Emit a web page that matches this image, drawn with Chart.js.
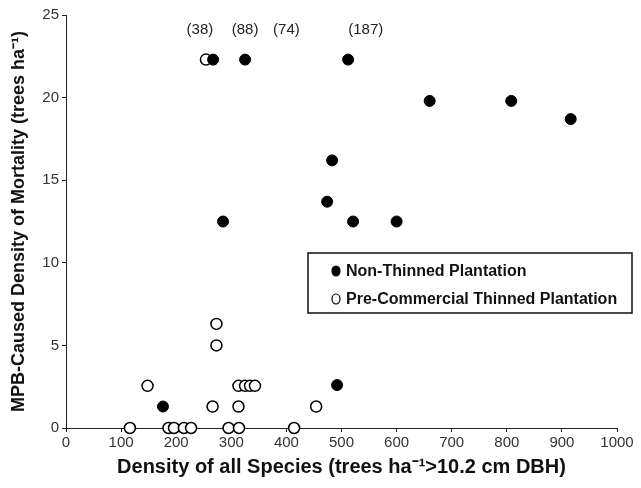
<!DOCTYPE html>
<html lang="en">
<head>
  <meta charset="UTF-8">
  <title>MPB-caused mortality vs stand density</title>
  <script src="https://cdn.jsdelivr.net/npm/chart.js"></script>
  <style>
    html, body { margin: 0; padding: 0; background: #fff; }
    #wrap { width: 641px; height: 488px; }
  </style>
</head>
<body>
  <div id="wrap"><canvas id="chart" width="641" height="488"></canvas></div>
  <script>
    // Non-thinned plantations (filled circles)
    const nonThinnedDensity   = [267, 325, 512, 660, 808, 916, 483, 474, 285, 521, 600, 176, 492];
    const nonThinnedMortality = [22.3, 22.3, 22.3, 19.8, 19.8, 18.7, 16.2, 13.7, 12.5, 12.5, 12.5, 1.3, 2.6];

    // Pre-commercial thinned plantations (open circles)
    const thinnedDensity   = [254, 273, 273, 148, 313, 325, 334, 343, 266, 313, 454,
                              116, 186, 196, 214, 227, 295, 314, 414];
    const thinnedMortality = [22.3, 6.3, 5.0, 2.55, 2.55, 2.55, 2.55, 2.55, 1.3, 1.3, 1.3,
                              0, 0, 0, 0, 0, 0, 0, 0];

    // off-scale values written above the capped points
    const noteText = ['(38)', '(88)', '(74)', '(187)'];
    const noteX    = [243, 325, 400, 544];
    const noteY    = [24.1, 24.1, 24.1, 24.1];

    const FONT = '"Liberation Sans", Arial, Helvetica, sans-serif';

    const toPoints = (xs, ys) => xs.map((v, i) => ({ x: v, y: ys[i] }));

    // text labels above the top row
    const notesPlugin = {
      id: 'notes',
      afterDatasetsDraw(chart) {
        const { ctx, scales: { x, y } } = chart;
        ctx.save();
        ctx.font = '15px ' + FONT;
        ctx.fillStyle = '#222';
        ctx.textAlign = 'center';
        ctx.textBaseline = 'middle';
        noteText.forEach((t, i) => {
          ctx.fillText(t, x.getPixelForValue(noteX[i]), y.getPixelForValue(noteY[i]));
        });
        ctx.restore();
      }
    };

    // boxed legend inside the plot
    const boxLegend = {
      id: 'boxLegend',
      afterDraw(chart) {
        const ctx = chart.ctx;
        const left = 308, top = 253, w = 324, h = 60;
        ctx.save();
        ctx.fillStyle = '#fff';
        ctx.fillRect(left, top, w, h);
        ctx.strokeStyle = '#111';
        ctx.lineWidth = 1.5;
        ctx.strokeRect(left, top, w, h);
        ctx.font = 'bold 16px ' + FONT;
        ctx.textBaseline = 'middle';
        chart.data.datasets.forEach((ds, i) => {
          const cy = top + 18 + i * 28;
          ctx.beginPath();
          ctx.ellipse(left + 28, cy, 4, 5, 0, 0, Math.PI * 2);
          ctx.fillStyle = ds.pointBackgroundColor;
          ctx.fill();
          ctx.lineWidth = 1.2;
          ctx.strokeStyle = '#000';
          ctx.stroke();
          ctx.fillStyle = '#111';
          ctx.fillText(ds.label, left + 38, cy + 1);
        });
        ctx.restore();
      }
    };

    const axisGrid = {
      display: true,
      drawOnChartArea: false,
      drawTicks: true,
      tickLength: 4,
      color: '#222'
    };

    new Chart(document.getElementById('chart'), {
      type: 'scatter',
      data: {
        datasets: [
          {
            label: 'Non-Thinned Plantation',
            data: toPoints(nonThinnedDensity, nonThinnedMortality),
            pointBackgroundColor: '#000',
            pointBorderColor: '#000',
            pointBorderWidth: 1,
            pointRadius: 5.5,
            clip: false
          },
          {
            label: 'Pre-Commercial Thinned Plantation',
            data: toPoints(thinnedDensity, thinnedMortality),
            pointBackgroundColor: '#fff',
            pointBorderColor: '#000',
            pointBorderWidth: 1.5,
            pointRadius: 5.5,
            clip: false
          }
        ]
      },
      options: {
        responsive: false,
        animation: false,
        layout: { padding: { top: 15, right: 24, left: 0, bottom: 0 } },
        plugins: {
          legend: { display: false },
          tooltip: { enabled: false }
        },
        scales: {
          x: {
            type: 'linear',
            min: 0,
            max: 1000,
            grid: axisGrid,
            border: { display: true, color: '#222', width: 1 },
            ticks: {
              stepSize: 100,
              color: '#333',
              font: { family: FONT, size: 15 },
              padding: 2,
              maxRotation: 0,
              callback: (v) => String(v)
            },
            title: {
              display: true,
              text: 'Density of all Species (trees ha⁻¹>10.2 cm DBH)',
              color: '#111',
              font: { family: FONT, size: 20, weight: 'bold' },
              padding: { bottom: 9 }
            },
            afterFit: (s) => { s.height = 60; }
          },
          y: {
            type: 'linear',
            min: 0,
            max: 25,
            grid: axisGrid,
            border: { display: true, color: '#222', width: 1 },
            ticks: { stepSize: 5, color: '#333', font: { family: FONT, size: 15 }, padding: 3 },
            title: {
              display: true,
              text: 'MPB-Caused Density of Mortality (trees ha⁻¹)',
              color: '#111',
              font: { family: FONT, size: 18, weight: 'bold' },
              padding: { top: 8 }
            },
            afterFit: (s) => { s.width = 66; }
          }
        }
      },
      plugins: [notesPlugin, boxLegend]
    });
  </script>
</body>
</html>
